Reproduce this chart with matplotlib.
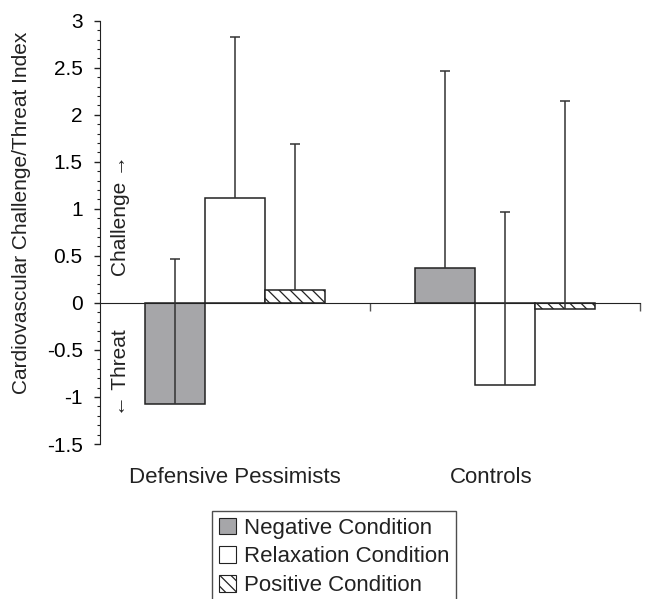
import numpy as np
import matplotlib
matplotlib.use('Agg')
import matplotlib.pyplot as plt
from matplotlib.patches import Patch
from matplotlib.transforms import blended_transform_factory

plt.rcParams['font.family'] = ['Liberation Sans', 'DejaVu Sans']
plt.rcParams['hatch.linewidth'] = 0.9

# data
groups = ['Defensive Pessimists', 'Controls']
conditions = ['Negative Condition', 'Relaxation Condition', 'Positive Condition']
negative = [-1.07, 0.37]
relaxation = [1.11, -0.87]
positive = [0.14, -0.06]
# upper error bars (only the plus side is drawn)
negative_err = [1.54, 2.10]
relaxation_err = [1.72, 1.84]
positive_err = [1.55, 2.21]

fig = plt.figure(figsize=(6.46, 5.99), dpi=100)
ax = fig.add_axes([100/646, 1-444/599, 540/646, (444-20.7)/599])

x = np.arange(len(groups))
w = 0.222
styles = [dict(facecolor='#a6a6a9', hatch=None),
          dict(facecolor='white', hatch=None),
          dict(facecolor='white', hatch='\\\\\\')]
series = [(negative, negative_err), (relaxation, relaxation_err), (positive, positive_err)]

for i, ((vals, errs), st) in enumerate(zip(series, styles)):
    xs = x + (i-1)*w
    ax.bar(xs, vals, width=w, facecolor=st['facecolor'], hatch=st['hatch'],
           edgecolor='#222222', linewidth=1.1, zorder=2)
    tops = np.array(vals) + np.array(errs)
    ax.vlines(xs, vals, tops, color='#333333', linewidth=1.1, zorder=3)
    ax.plot(xs, tops, linestyle='none', marker='_', markersize=7,
            markeredgewidth=1.1, color='#333333', zorder=3)

ax.set_xlim(-0.5, 1.5)
ax.set_ylim(-1.5, 3)

ax.spines['top'].set_visible(False)
ax.spines['right'].set_visible(False)
ax.spines['bottom'].set_position(('data', 0))
ax.spines['bottom'].set_color('#222222')
ax.spines['left'].set_color('#222222')

ax.set_yticks(np.arange(-1.5, 3.01, 0.5))
ax.set_yticklabels(['-1.5', '-1', '-0.5', '0', '0.5', '1', '1.5', '2', '2.5', '3'])
ax.set_yticks(np.arange(-1.5, 3.01, 0.1), minor=True)
ax.tick_params(axis='y', which='major', length=4, width=1, labelsize=15, pad=8.5, color='#222222')
ax.tick_params(axis='y', which='minor', length=2.3, width=0.8, color='#222222')

ax.set_xticks([])
ax.set_xticks([0.5, 1.5], minor=True)
ax.tick_params(axis='x', which='minor', length=6, width=1, direction='out', color='#555555')

trans = blended_transform_factory(ax.transData, ax.transAxes)
label_x = [0.0, 0.95]
for lx, g in zip(label_x, groups):
    ax.text(lx, -0.08, g, transform=trans, ha='center', va='center', fontsize=16, color='#222222')

ax.set_ylabel('Cardiovascular Challenge/Threat Index', fontsize=15, color='#222222')
ax.yaxis.set_label_coords(-0.128, 0.547)
ax.text(120/646, 1-216/599, 'Challenge \u2192', transform=fig.transFigure, rotation=90,
        ha='center', va='center', fontsize=15, color='#222222')
ax.text(121/646, 1-373/599, '\u2190 Threat', transform=fig.transFigure, rotation=90,
        ha='center', va='center', fontsize=15, color='#222222')

handles = [Patch(facecolor=st['facecolor'], hatch=st['hatch'], edgecolor='#222222', linewidth=0.8)
           for st in styles]
leg = fig.legend(handles, conditions, loc='upper left', bbox_to_anchor=(212/646, 1-511/599),
                 fontsize=16, frameon=True, fancybox=False, edgecolor='#222222',
                 handlelength=0.78, handleheight=0.78, handletextpad=0.35,
                 labelspacing=0.34, borderpad=0.3, borderaxespad=0)
leg.get_frame().set_linewidth(1.0)
for t in leg.get_texts():
    t.set_color('#222222')

fig.savefig('out.png', dpi=100)
